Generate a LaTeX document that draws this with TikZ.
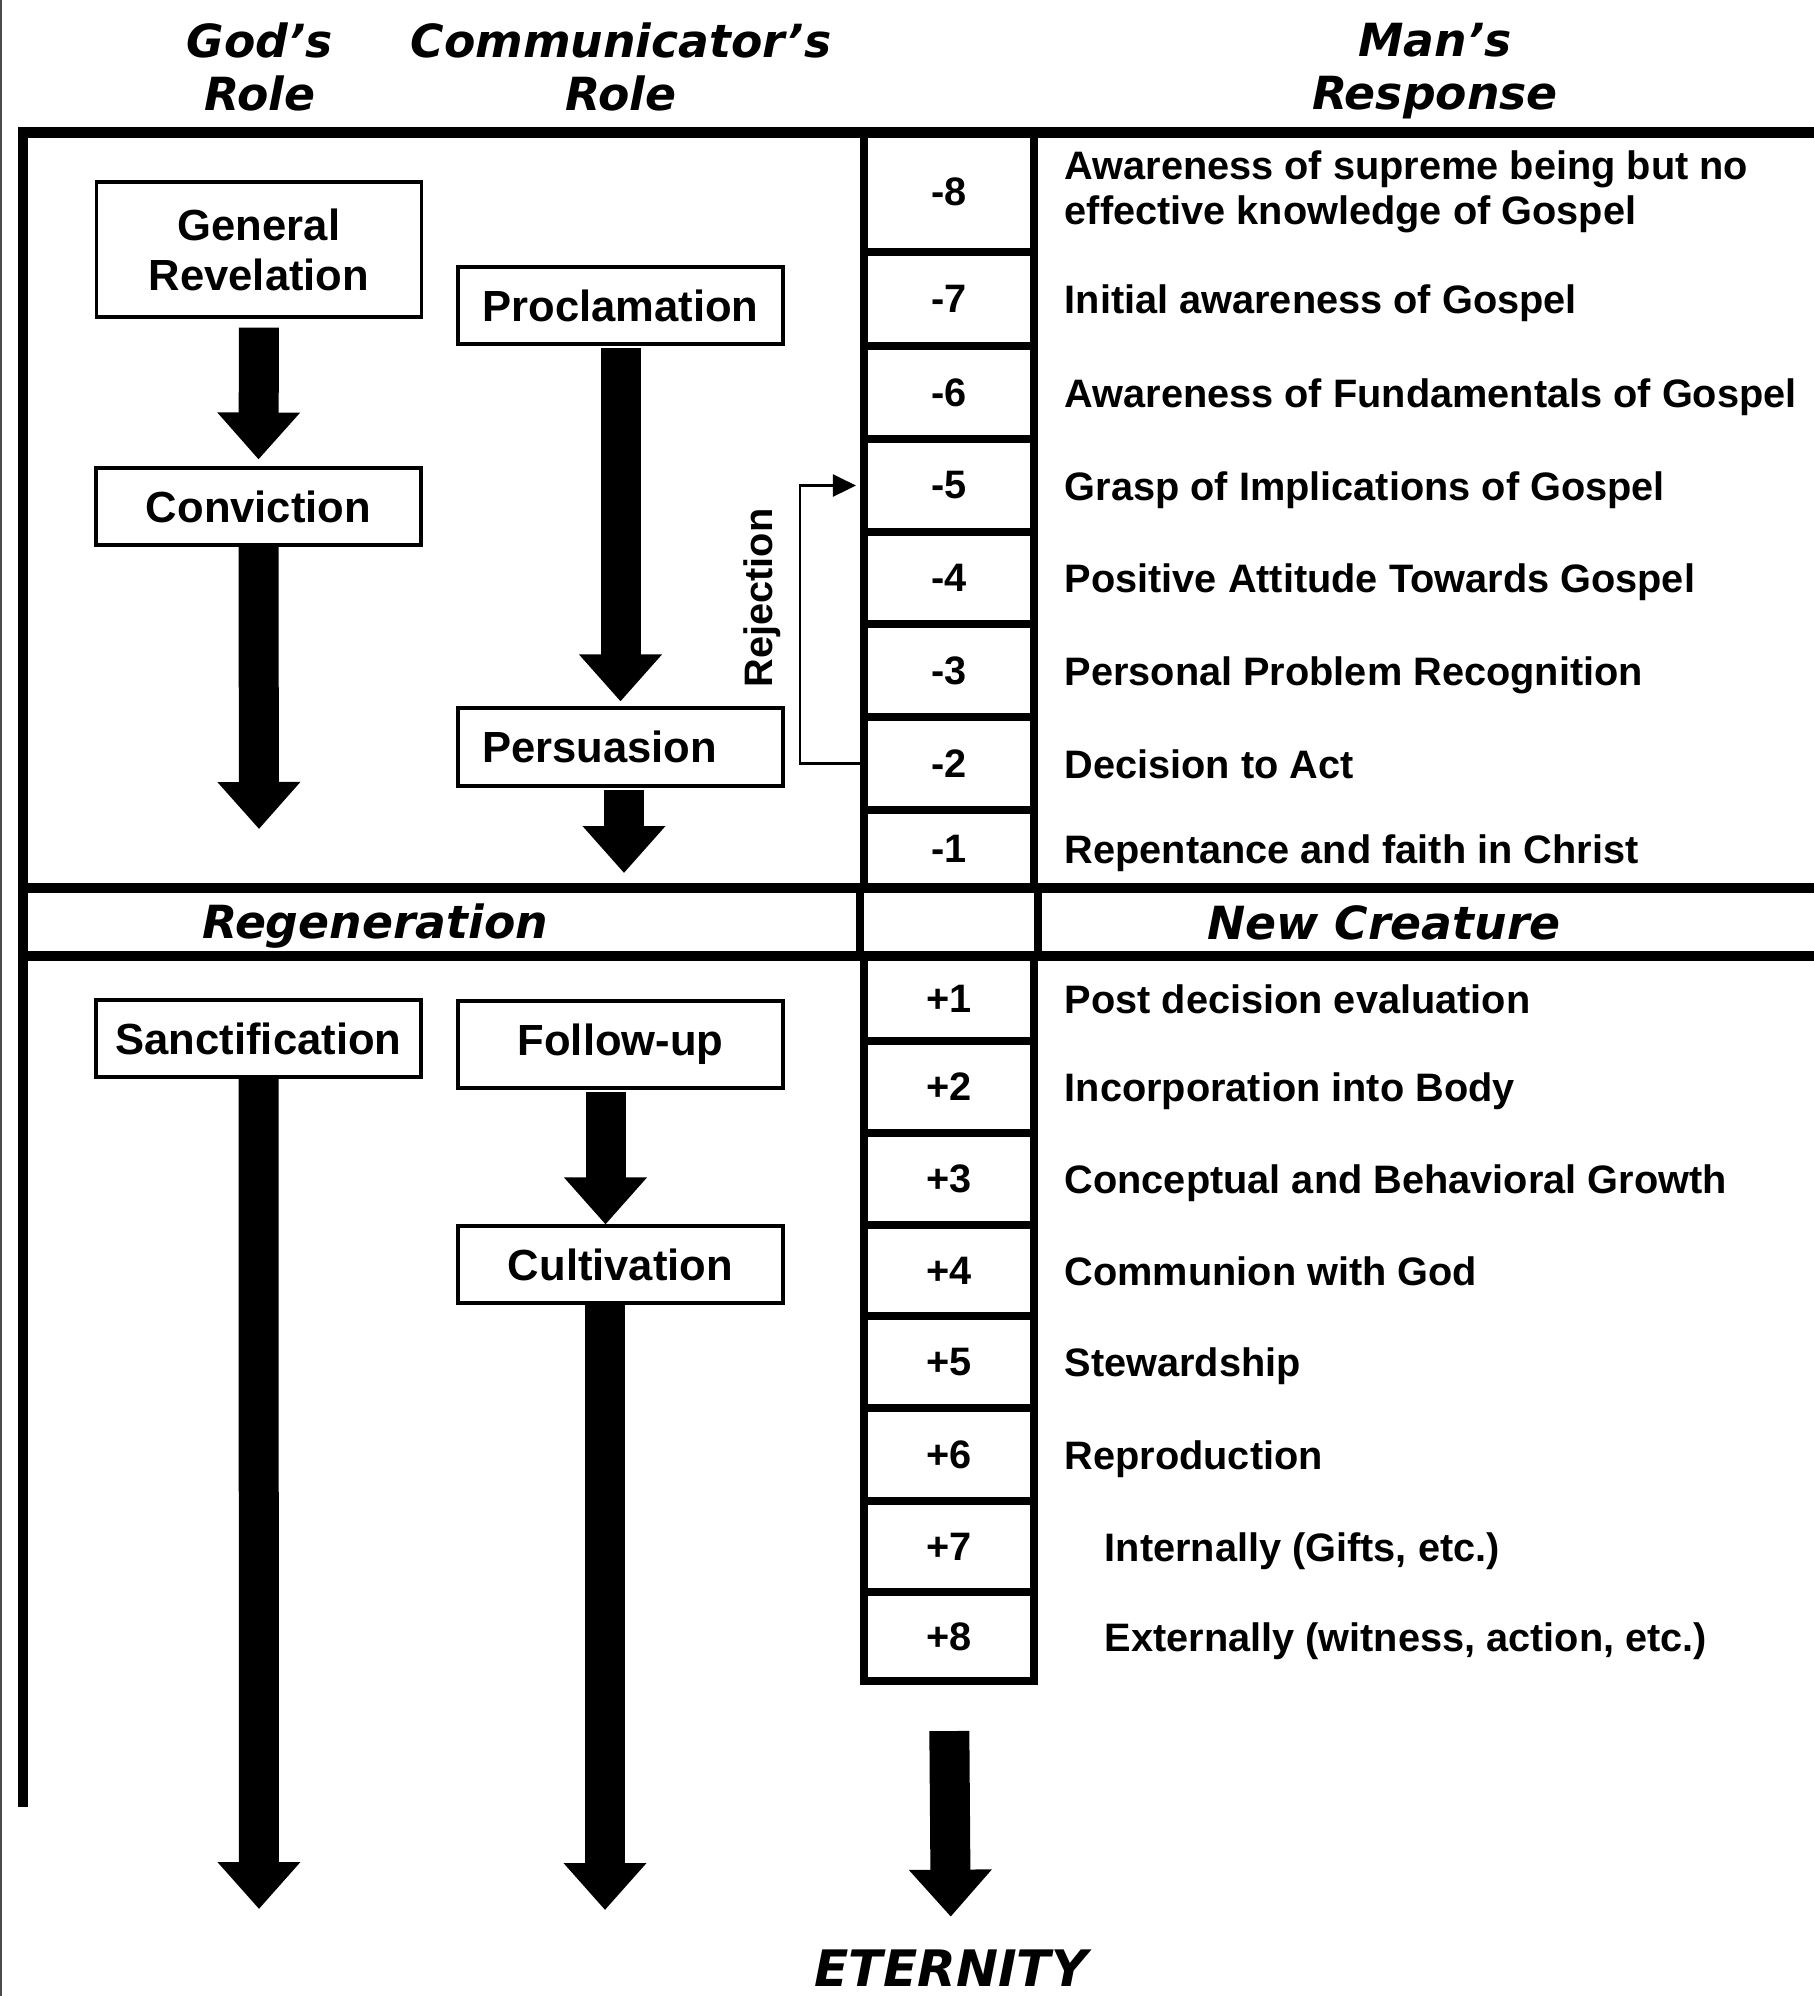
\documentclass[tikz,border=0pt]{standalone}
\usepackage{fontspec}
\setmainfont{Liberation Sans}
\newfontfamily\headfont{DejaVu Sans Bold Oblique}
\usepackage{tikz}
\usetikzlibrary{arrows.meta, positioning, calc}

\newcommand{\boxfont}{\fontsize{12.4}{14.2}\selectfont\bfseries}
\newcommand{\respfont}{\fontsize{11.3}{12.8}\selectfont\bfseries}
\newcommand{\titlefont}{\fontsize{13}{15.3}\selectfont\headfont}

\begin{document}
\begin{tikzpicture}[
    rolebox/.style={draw, line width=0.9pt, minimum width=3.25cm, minimum height=0.77cm, inner sep=2pt, align=center, font=\boxfont},
    numcell/.style={draw, line width=2.3pt, minimum width=1.70cm, inner sep=0pt, font=\respfont},
    resp/.style={anchor=west, inner sep=0pt, align=left, font=\respfont},
    oneline/.style={text height=8.3pt, text depth=0pt},
    twoline/.style={},
    title/.style={align=center, font=\titlefont},
    frame/.style={line width=3pt},
    bigarrow/.style={line width=0.4cm, -{Triangle[width=0.8cm,length=0.47cm]}},
    reject/.style={line width=0.7pt, -{Triangle[width=0.22cm,length=0.23cm]}}
]
\useasboundingbox (0,0) rectangle (18.14,-19.96);

% headings
\node[title] (god) at (2.60,-0.67) {God’s\\Role};
\node[title] (comm) at (6.21,-0.67) {Communicator’s\\Role};
\node[title] (man) at (14.35,-0.71) {Man’s\\Response};

% frame
\draw[line width=0.5pt, black!70] (0.01,0) -- (0.01,-19.96);
\draw[frame] (0.23,-18.07) |- (18.14,-1.325);
\draw[frame] (0.23,-8.88) -- (18.14,-8.88);
\draw[frame] (0.23,-9.56) -- (18.14,-9.56);

% response scale
\foreach \n/\t/\b/\lab/\x/\st/\txt in {
  m8/1.32/2.52/-8/10.64/twoline/{Awareness of supreme being but no\\effective knowledge of Gospel},
  m7/2.52/3.46/-7/10.64/oneline/{Initial awareness of Gospel},
  m6/3.46/4.39/-6/10.64/oneline/{Awareness of Fundamentals of Gospel},
  m5/4.39/5.32/-5/10.64/oneline/{Grasp of Implications of Gospel},
  m4/5.32/6.24/-4/10.64/oneline/{Positive Attitude Towards Gospel},
  m3/6.24/7.17/-3/10.64/oneline/{Personal Problem Recognition},
  m2/7.17/8.10/-2/10.64/oneline/{Decision to Act},
  m1/8.10/8.88/-1/10.64/oneline/{Repentance and faith in Christ},
  p1/9.56/10.41/+1/10.64/oneline/{Post decision evaluation},
  p2/10.41/11.33/+2/10.64/oneline/{Incorporation into Body},
  p3/11.33/12.25/+3/10.64/oneline/{Conceptual and Behavioral Growth},
  p4/12.25/13.16/+4/10.64/oneline/{Communion with God},
  p5/13.16/14.08/+5/10.64/oneline/{Stewardship},
  p6/14.08/15.01/+6/10.64/oneline/{Reproduction},
  p7/15.01/15.92/+7/11.04/oneline/{Internally (Gifts, etc.)},
  p8/15.92/16.81/+8/11.04/oneline/{Externally (witness, action, etc.)}}
{
  \node[numcell, minimum height={(\b-\t)*1cm}] (\n) at (9.49,{-(\t+\b)/2}) {\lab};
  \node[resp, \st] (t\n) at (\x,{-(\t+\b)/2}) {\txt};
}
\draw[line width=2.3pt] (m1.south west) -- (p1.north west) (m1.south east) -- (p1.north east);

\node[title] (regen) at (3.75,-9.26) {Regeneration};
\node[title] (newcr) at (13.84,-9.23) {New Creature};

% roles
\node[rolebox, minimum height=1.35cm] (genrev) at (2.59,-2.495) {General\\Revelation};
\node[rolebox] (conv) at (2.585,-5.065) {Conviction};
\node[rolebox] (procl) at (6.205,-3.055) {Proclamation};
\node[rolebox, text width=2.77cm, inner xsep=0.24cm, align=left, minimum height=0.78cm] (persu) at (6.205,-7.47) {Persuasion};
\node[rolebox] (sanct) at (2.585,-10.385) {Sanctification};
\node[rolebox, minimum height=0.87cm] (follow) at (6.205,-10.445) {Follow-up};
\node[rolebox] (cult) at (6.205,-12.645) {Cultivation};

\coordinate (convend) at (2.59,-8.29);
\coordinate (persuend) at (6.24,-8.73);
\coordinate (sanctend) at (2.59,-19.09);
\coordinate (cultend) at (6.05,-19.10);

\node[font=\fontsize{14.3}{17}\selectfont\headfont, anchor=base, inner sep=0pt] (eter) at (9.51,-19.86) {ETERNITY};

% arrows
\draw[bigarrow, shorten <=0.09cm, shorten >=0.07cm] (genrev.south) -- (conv.north);
\draw[bigarrow] (conv.south) -- (convend);
\draw[bigarrow, shorten <=0.02cm, shorten >=0.05cm] (procl.south) -- (persu.north);
\draw[bigarrow, shorten <=0.02cm] (persu.south -| persuend) -- (persuend);
\draw[bigarrow] (sanct.south) -- (sanctend);
\draw[bigarrow, shorten <=0.02cm] ([xshift=-0.15cm]follow.south) -- ([xshift=-0.15cm]cult.north);
\draw[bigarrow] (cult.south -| cultend) -- (cultend);
\draw[bigarrow, shorten <=0.46cm, shorten >=0.32cm] (p8.south) -- (eter.north);

% rejection loop
\node[font=\respfont, rotate=90] (rejlbl) at (7.62,-5.98) {Rejection};
\draw[reject, shorten >=0.04cm] (m2.west) -- ++(-0.60,0) |- (m5.west);
\end{tikzpicture}
\end{document}
